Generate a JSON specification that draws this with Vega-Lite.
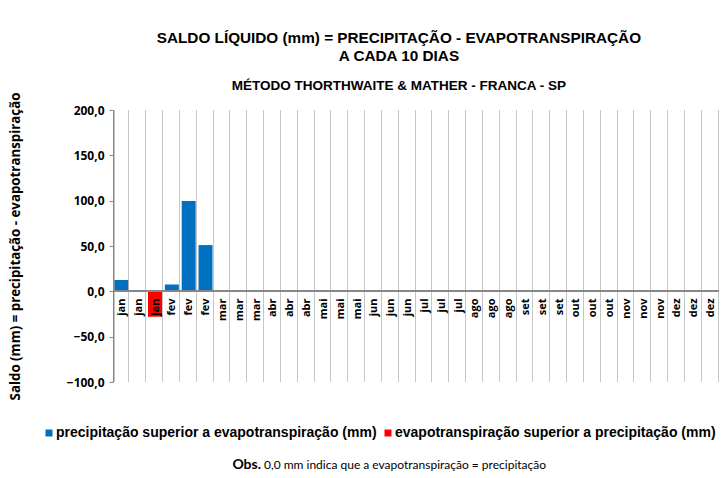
{
  "$schema": "https://vega.github.io/schema/vega-lite/v6.json",
  "background": "white",
  "padding": {"left": 8, "top": 31, "right": 1, "bottom": 4},
  "spacing": 18,
  "config": {
    "locale": {"number": {"decimal": ",", "thousands": ".", "grouping": [3], "currency": ["R$", ""]}},
    "view": {"stroke": null},
    "font": "Liberation Sans"
  },
  "resolve": {"scale": {"color": "independent"}, "legend": {"color": "independent"}},
  "title": {
    "text": ["SALDO LÍQUIDO (mm) =  PRECIPITAÇÃO - EVAPOTRANSPIRAÇÃO", "A CADA 10 DIAS"],
    "subtitle": "MÉTODO THORTHWAITE & MATHER - FRANCA - SP",
    "font": "Liberation Sans",
    "fontSize": 15.3,
    "fontWeight": "bold",
    "lineHeight": 18,
    "color": "#000000",
    "subtitleFont": "Liberation Sans",
    "subtitleFontSize": 13.5,
    "subtitleFontWeight": "bold",
    "subtitleColor": "#000000",
    "subtitlePadding": 14,
    "anchor": "middle",
    "offset": 0,
    "dx": 35
  },
  "vconcat": [
    {
      "width": 606,
      "height": 272,
      "data": {
        "values": [
          {"periodo": "jan 1", "valor": 12.5, "tipo": "precipitação superior a evapotranspiração (mm)"},
          {"periodo": "jan 2", "valor": 1.0, "tipo": "precipitação superior a evapotranspiração (mm)"},
          {"periodo": "jan 3", "valor": -28.0, "tipo": "evapotranspiração superior a precipitação (mm)"},
          {"periodo": "fev 1", "valor": 7.5, "tipo": "precipitação superior a evapotranspiração (mm)"},
          {"periodo": "fev 2", "valor": 99.5, "tipo": "precipitação superior a evapotranspiração (mm)"},
          {"periodo": "fev 3", "valor": 51.0, "tipo": "precipitação superior a evapotranspiração (mm)"},
          {"periodo": "mar 1", "valor": 0, "tipo": "precipitação superior a evapotranspiração (mm)"},
          {"periodo": "mar 2", "valor": 0, "tipo": "precipitação superior a evapotranspiração (mm)"},
          {"periodo": "mar 3", "valor": 0, "tipo": "precipitação superior a evapotranspiração (mm)"},
          {"periodo": "abr 1", "valor": 0, "tipo": "precipitação superior a evapotranspiração (mm)"},
          {"periodo": "abr 2", "valor": 0, "tipo": "precipitação superior a evapotranspiração (mm)"},
          {"periodo": "abr 3", "valor": 0, "tipo": "precipitação superior a evapotranspiração (mm)"},
          {"periodo": "mai 1", "valor": 0, "tipo": "precipitação superior a evapotranspiração (mm)"},
          {"periodo": "mai 2", "valor": 0, "tipo": "precipitação superior a evapotranspiração (mm)"},
          {"periodo": "mai 3", "valor": 0, "tipo": "precipitação superior a evapotranspiração (mm)"},
          {"periodo": "jun 1", "valor": 0, "tipo": "precipitação superior a evapotranspiração (mm)"},
          {"periodo": "jun 2", "valor": 0, "tipo": "precipitação superior a evapotranspiração (mm)"},
          {"periodo": "jun 3", "valor": 0, "tipo": "precipitação superior a evapotranspiração (mm)"},
          {"periodo": "jul 1", "valor": 0, "tipo": "precipitação superior a evapotranspiração (mm)"},
          {"periodo": "jul 2", "valor": 0, "tipo": "precipitação superior a evapotranspiração (mm)"},
          {"periodo": "jul 3", "valor": 0, "tipo": "precipitação superior a evapotranspiração (mm)"},
          {"periodo": "ago 1", "valor": 0, "tipo": "precipitação superior a evapotranspiração (mm)"},
          {"periodo": "ago 2", "valor": 0, "tipo": "precipitação superior a evapotranspiração (mm)"},
          {"periodo": "ago 3", "valor": 0, "tipo": "precipitação superior a evapotranspiração (mm)"},
          {"periodo": "set 1", "valor": 0, "tipo": "precipitação superior a evapotranspiração (mm)"},
          {"periodo": "set 2", "valor": 0, "tipo": "precipitação superior a evapotranspiração (mm)"},
          {"periodo": "set 3", "valor": 0, "tipo": "precipitação superior a evapotranspiração (mm)"},
          {"periodo": "out 1", "valor": 0, "tipo": "precipitação superior a evapotranspiração (mm)"},
          {"periodo": "out 2", "valor": 0, "tipo": "precipitação superior a evapotranspiração (mm)"},
          {"periodo": "out 3", "valor": 0, "tipo": "precipitação superior a evapotranspiração (mm)"},
          {"periodo": "nov 1", "valor": 0, "tipo": "precipitação superior a evapotranspiração (mm)"},
          {"periodo": "nov 2", "valor": 0, "tipo": "precipitação superior a evapotranspiração (mm)"},
          {"periodo": "nov 3", "valor": 0, "tipo": "precipitação superior a evapotranspiração (mm)"},
          {"periodo": "dez 1", "valor": 0, "tipo": "precipitação superior a evapotranspiração (mm)"},
          {"periodo": "dez 2", "valor": 0, "tipo": "precipitação superior a evapotranspiração (mm)"},
          {"periodo": "dez 3", "valor": 0, "tipo": "precipitação superior a evapotranspiração (mm)"}
        ]
      },
      "layer": [
        {
          "mark": {"type": "bar"},
          "encoding": {
            "x": {
              "field": "periodo",
              "type": "nominal",
              "sort": null,
              "scale": {"paddingInner": 0.17, "paddingOuter": 0.08},
              "axis": {
                "title": null,
                "orient": "bottom",
                "offset": -91,
                "zindex": 1,
                "domain": false,
                "ticks": false,
                "labelExpr": "slice(datum.label, 0, 3)",
                "labelAngle": 270,
                "labelAlign": "right",
                "labelBaseline": "middle",
                "labelPadding": 7,
                "labelFont": "Open Sans",
                "labelFontWeight": "bold",
                "labelFontSize": 11,
                "labelColor": "#000000",
                "grid": true,
                "tickBand": "extent",
                "gridColor": "#8a8a8a",
                "gridDash": [1, 1],
                "gridWidth": 1,
                "gridOpacity": 1
              }
            },
            "y": {
              "field": "valor",
              "type": "quantitative",
              "scale": {"domain": [-100, 200], "nice": false},
              "axis": {
                "title": "Saldo (mm) = precipitação - evapotranspiração",
                "titleFont": "Open Sans",
                "titleFontSize": 13.3,
                "titleFontWeight": "bold",
                "titleColor": "#000000",
                "titlePadding": 44,
                "values": [-100, -50, 0, 50, 100, 150, 200],
                "format": ",.1f",
                "labelFont": "Open Sans",
                "labelFontWeight": "bold",
                "labelFontSize": 12,
                "labelColor": "#000000",
                "labelPadding": 5,
                "tickSize": 4,
                "tickColor": "#868686",
                "domainColor": "#868686",
                "grid": false
              }
            },
            "color": {
              "field": "tipo",
              "type": "nominal",
              "sort": null,
              "scale": {
                "domain": ["precipitação superior a evapotranspiração (mm)", "evapotranspiração superior a precipitação (mm)"],
                "range": ["#0070C0", "#FF0000"]
              },
              "legend": {
                "title": null,
                "orient": "none",
                "legendX": -71,
                "legendY": 316,
                "direction": "horizontal",
                "symbolType": "square",
                "symbolSize": 49,
                "symbolStrokeWidth": 0,
                "labelFont": "Liberation Sans",
                "labelFontSize": 14,
                "labelFontWeight": "bold",
                "labelColor": "#000000",
                "labelLimit": 500,
                "labelOffset": 0,
                "columnPadding": 4
              }
            }
          }
        },
        {
          "mark": {"type": "rule", "color": "#868686", "strokeWidth": 1},
          "encoding": {"y": {"datum": 0}}
        }
      ]
    },
    {
      "width": 606,
      "height": 14,
      "data": {"values": [{"a": "Obs.", "b": "0,0 mm indica que a evapotranspiração = precipitação"}]},
      "layer": [
        {
          "mark": {"type": "text", "font": "Lato", "fontWeight": "bold", "fontSize": 14, "align": "right", "color": "#000000", "dx": -155},
          "encoding": {"text": {"field": "a", "type": "nominal"}}
        },
        {
          "mark": {"type": "text", "font": "Lato", "fontSize": 12, "align": "left", "color": "#000000", "dx": -152},
          "encoding": {"text": {"field": "b", "type": "nominal"}}
        }
      ]
    }
  ]
}
